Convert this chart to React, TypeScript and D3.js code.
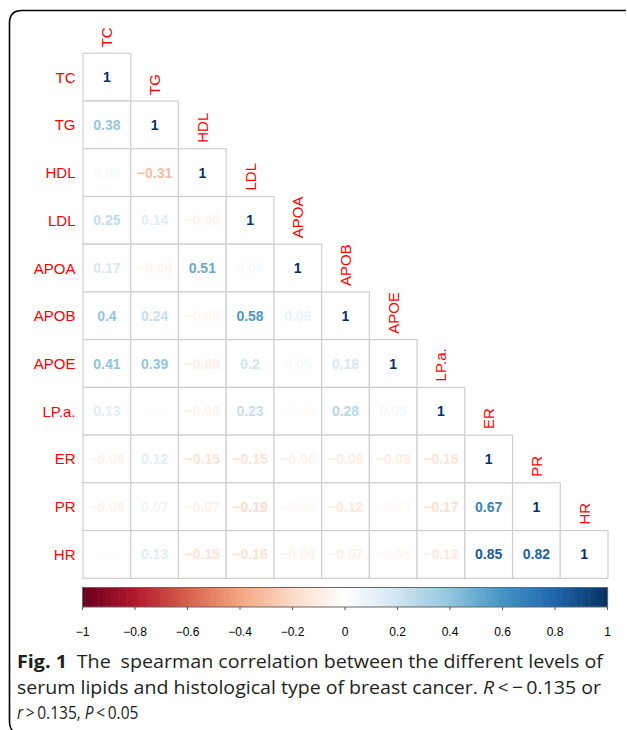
import React from "react";
import * as d3 from "d3";

const variables = ["TC", "TG", "HDL", "LDL", "APOA", "APOB", "APOE", "LP.a.", "ER", "PR", "HR"];

const rowTC = [1];
const rowTG = [0.38, 1];
const rowHDL = [0.03, -0.31, 1];
const rowLDL = [0.25, 0.14, -0.06, 1];
const rowAPOA = [0.17, -0.06, 0.51, 0.04, 1];
const rowAPOB = [0.4, 0.24, -0.05, 0.58, 0.09, 1];
const rowAPOE = [0.41, 0.39, -0.09, 0.2, 0.05, 0.18, 1];
const rowLPa = [0.13, 0.01, -0.06, 0.23, -0.02, 0.28, 0.05, 1];
const rowER = [-0.06, 0.12, -0.15, -0.15, -0.06, -0.09, -0.09, -0.15, 1];
const rowPR = [-0.06, 0.07, -0.07, -0.19, -0.04, -0.12, -0.03, -0.17, 0.67, 1];
const rowHR = [0.01, 0.13, -0.15, -0.16, -0.06, -0.07, -0.05, -0.12, 0.85, 0.82, 1];

const matrix = [rowTC, rowTG, rowHDL, rowLDL, rowAPOA, rowAPOB, rowAPOE, rowLPa, rowER, rowPR, rowHR];

const colorbarTicks = [-1, -0.8, -0.6, -0.4, -0.2, 0, 0.2, 0.4, 0.6, 0.8, 1];

const paletteColors = ["#67001F", "#B2182B", "#D6604D", "#F4A582", "#FDDBC7", "#FFFFFF", "#D1E5F0", "#92C5DE", "#4393C3", "#2166AC", "#053061"];

const color = d3
  .scaleLinear<string>()
  .domain(d3.range(paletteColors.length).map((i) => -1 + (2 * i) / (paletteColors.length - 1)))
  .range(paletteColors)
  .interpolate(d3.interpolateRgb);

const fmt = (v: number) => {
  const s = v === 1 ? "1" : String(Math.abs(v));
  return v < 0 ? "\u2212" + s : s;
};

export default function App() {
  const W = 627;
  const H = 730;
  const x = d3.scaleBand<string>().domain(variables).range([83, 608]);
  const y = d3.scaleBand<string>().domain(variables).range([53.3, 578.3]);
  const bw = x.bandwidth();
  const cb = d3.scaleLinear().domain([-1, 1]).range([82.5, 607.5]);
  const steps = d3.range(200);
  const label = "Liberation Sans, Arial, sans-serif";
  const caption = "'Open Sans', 'Noto Sans', sans-serif";

  return (
    <svg width={W} height={H} style={{ position: "absolute", left: 0, top: 0, background: "#fff" }}>
      <rect x={0} y={0} width={W} height={H} fill="#fff" />
      <path d="M 626 10.5 L 22 10.5 Q 9.5 10.5 9.5 23 L 9.5 722 Q 9.5 728 13 731" fill="none" stroke="#000" strokeWidth={1.6} />

      {/* cells */}
      {matrix.map((row, i) =>
        row.map((v, j) => (
          <rect
            key={`c${i}-${j}`}
            x={x(variables[j])!}
            y={y(variables[i])!}
            width={bw}
            height={bw}
            fill="#fff"
            stroke="#cfcfcf"
            strokeWidth={1.2}
          />
        ))
      )}
      {matrix.map((row, i) =>
        row.map((v, j) => (
          <text
            key={`t${i}-${j}`}
            x={x(variables[j])! + bw / 2}
            y={y(variables[i])! + bw / 2}
            textAnchor="middle"
            dominantBaseline="central"
            fontFamily={label}
            fontWeight="bold"
            fontSize={14}
            fill={color(v)}
          >
            {fmt(v)}
          </text>
        ))
      )}

      {/* row labels */}
      {variables.map((name) => (
        <text
          key={`r${name}`}
          x={75.5}
          y={y(name)! + bw / 2}
          textAnchor="end"
          dominantBaseline="central"
          fontFamily={label}
          fontSize={15}
          fill="#ff0000"
        >
          {name}
        </text>
      ))}

      {/* column labels */}
      {variables.map((name) => {
        const cx = x(name)! + bw / 2;
        const by = y(name)! - 6;
        return (
          <text
            key={`col${name}`}
            transform={`translate(${cx},${by}) rotate(-90)`}
            textAnchor="start"
            dominantBaseline="central"
            fontFamily={label}
            fontSize={15}
            fill="#ff0000"
          >
            {name}
          </text>
        );
      })}

      {/* colorbar */}
      {steps.map((s) => {
        const v0 = -1 + (2 * s) / steps.length;
        const v1 = -1 + (2 * (s + 1)) / steps.length;
        return (
          <rect
            key={`cb${s}`}
            x={cb(v0)}
            y={587.5}
            width={cb(v1) - cb(v0) + 0.6}
            height={19.5}
            fill={color((v0 + v1) / 2)}
          />
        );
      })}
      <rect x={cb(-1)} y={587.5} width={cb(1) - cb(-1)} height={19.5} fill="none" stroke="#666" strokeWidth={1} />
      {colorbarTicks.map((t) => (
        <g key={`tk${t}`}>
          <line x1={cb(t)} x2={cb(t)} y1={607} y2={610} stroke="#555" strokeWidth={1} />
          <text
            x={cb(t)}
            y={636}
            textAnchor="middle"
            fontFamily={label}
            fontSize={12}
            fill="#000"
          >
            {fmt(t)}
          </text>
        </g>
      ))}

      {/* caption */}
      <text x={17} y={668} fontFamily={caption} fontSize={18.5} fill="#231f20" textLength={586} lengthAdjust="spacingAndGlyphs">
        <tspan fontWeight="bold">Fig. 1</tspan>
        <tspan>{"\u2002The\u2002spearman correlation between the different levels of"}</tspan>
      </text>
      <text x={17} y={693.5} fontFamily={caption} fontSize={18.5} fill="#231f20" textLength={584} lengthAdjust="spacingAndGlyphs">
        <tspan>{"serum lipids and histological type of breast cancer. "}</tspan>
        <tspan fontStyle="italic">R</tspan>
        <tspan>{"\u2009<\u2009\u2212\u20090.135 or"}</tspan>
      </text>
      <text transform="translate(17,719) scale(0.84,1)" x={0} y={0} fontFamily={caption} fontSize={18.5} fill="#231f20">
        <tspan fontStyle="italic">r</tspan>
        <tspan>{"\u2009>\u20090.135, "}</tspan>
        <tspan fontStyle="italic">P</tspan>
        <tspan>{"\u2009<\u20090.05"}</tspan>
      </text>
    </svg>
  );
}
